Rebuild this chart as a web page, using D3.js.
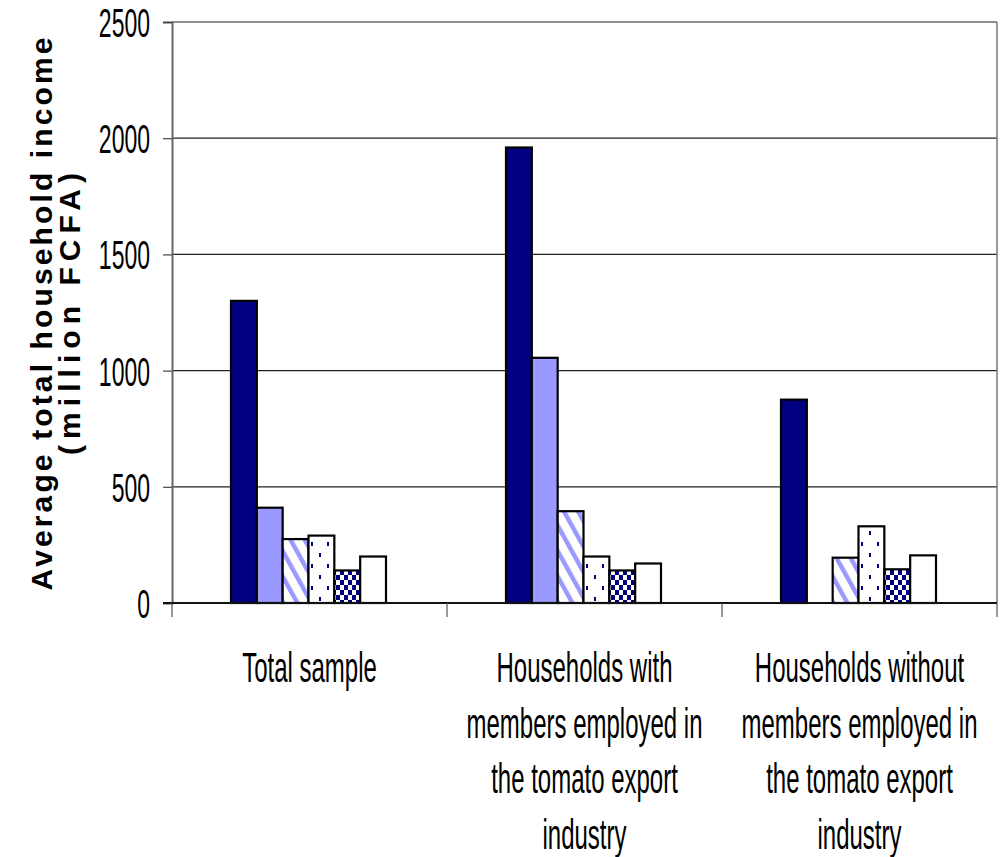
<!DOCTYPE html>
<html>
<head>
<meta charset="utf-8">
<script src="https://cdn.jsdelivr.net/npm/d3@7"></script>
<style>
  html, body { margin: 0; padding: 0; background: #fff; }
  svg { display: block; }
  text { font-family: "Liberation Sans", Arial, sans-serif; fill: #000; }
</style>
</head>
<body>
<svg id="chart" width="1000" height="857"></svg>
<script>
// Average total household income by household group, six series per group
const categories = [
  ["Total sample"],
  ["Households with", "members employed in", "the tomato export", "industry"],
  ["Households without", "members employed in", "the tomato export", "industry"]
];
const seriesNames = ["Series 1", "Series 2", "Series 3", "Series 4", "Series 5", "Series 6"];
const series1 = [1300, 1960, 875];
const series2 = [410, 1055, null];
const series3 = [275, 395, 195];
const series4 = [290, 200, 330];
const series5 = [140, 140, 145];
const series6 = [200, 170, 205];
const yTicks = [0, 500, 1000, 1500, 2000, 2500];
const yTitle = ["Average total household income", "(million FCFA)"];

const seriesValues = [series1, series2, series3, series4, series5, series6];

const svg = d3.select("#chart");
const plot = { left: 172, right: 997, top: 22, bottom: 603 };

const y = d3.scaleLinear().domain([0, 2500]).range([plot.bottom, plot.top]);
const x0 = d3.scaleBand()
  .domain(d3.range(categories.length))
  .range([plot.left, plot.right]);
const x1 = d3.scaleBand()
  .domain(d3.range(seriesNames.length))
  .range([59, 214]);

// fills: solid navy, solid periwinkle, diagonal stripes, dots, checker, white
const defs = svg.append("defs");

const stripe = defs.append("pattern")
  .attr("id", "pStripe").attr("patternUnits", "userSpaceOnUse")
  .attr("width", 10).attr("height", 10)
  .attr("patternTransform", "scale(1,1.8) rotate(-45)");
stripe.append("rect").attr("width", 10).attr("height", 10).attr("fill", "#fff");
stripe.append("rect").attr("width", 3.6).attr("height", 10).attr("fill", "#9999ff");

const dots = defs.append("pattern")
  .attr("id", "pDots").attr("patternUnits", "userSpaceOnUse")
  .attr("width", 16).attr("height", 22);
dots.append("rect").attr("width", 16).attr("height", 22).attr("fill", "#fff");
dots.append("rect").attr("x", 3).attr("y", 3).attr("width", 2).attr("height", 4).attr("fill", "#000080");
dots.append("rect").attr("x", 11).attr("y", 14).attr("width", 2).attr("height", 4).attr("fill", "#000080");

const checker = defs.append("pattern")
  .attr("id", "pCheck").attr("patternUnits", "userSpaceOnUse")
  .attr("width", 8).attr("height", 10);
checker.append("rect").attr("width", 8).attr("height", 10).attr("fill", "#fff");
checker.append("rect").attr("x", 0).attr("y", 0).attr("width", 4).attr("height", 5).attr("fill", "#000080");
checker.append("rect").attr("x", 4).attr("y", 5).attr("width", 4).attr("height", 5).attr("fill", "#000080");

const fills = ["#000080", "#9999ff", "url(#pStripe)", "url(#pDots)", "url(#pCheck)", "#ffffff"];

// horizontal gridlines
svg.append("g")
  .selectAll("line")
  .data(yTicks.filter(d => d > 0))
  .join("line")
  .attr("x1", plot.left).attr("x2", plot.right)
  .attr("y1", d => y(d)).attr("y2", d => y(d))
  .attr("stroke", "#222").attr("stroke-width", 1.2);

// right border of the plot area
svg.append("line")
  .attr("x1", plot.right).attr("x2", plot.right)
  .attr("y1", plot.top).attr("y2", plot.bottom)
  .attr("stroke", "#777").attr("stroke-width", 1.5);

// bars
const groups = svg.append("g")
  .selectAll("g")
  .data(categories.map((c, i) => i))
  .join("g")
  .attr("transform", i => `translate(${x0(i)},0)`);

groups.selectAll("rect")
  .data(i => seriesValues.map((vals, s) => ({ s, v: vals[i] })).filter(d => d.v != null))
  .join("rect")
  .attr("x", d => x1(d.s))
  .attr("width", x1.bandwidth())
  .attr("y", d => y(d.v))
  .attr("height", d => y(0) - y(d.v))
  .attr("fill", d => fills[d.s])
  .attr("stroke", "#000")
  .attr("stroke-width", 2.2);

// y axis
const yAxis = d3.axisLeft(y).tickValues(yTicks).tickSize(9).tickFormat("");
const yG = svg.append("g").attr("transform", `translate(${plot.left},0)`).call(yAxis);
yG.select(".domain").attr("stroke", "#666").attr("stroke-width", 2);
yG.selectAll(".tick line").attr("stroke", "#444").attr("stroke-width", 1.2);

// y tick labels (tall, narrow lettering)
svg.append("g")
  .selectAll("text")
  .data(yTicks)
  .join("text")
  .attr("transform", d => `translate(150,${y(d)}) scale(1,1.8)`)
  .attr("text-anchor", "end")
  .attr("dy", "0.36em")
  .style("font-size", "23px")
  .text(d => d);

// x axis with boundary ticks between categories
const xTickPos = d3.range(categories.length + 1).map(i => plot.left + i * x0.step());
svg.append("line")
  .attr("x1", plot.left - 9).attr("x2", plot.right)
  .attr("y1", plot.bottom).attr("y2", plot.bottom)
  .attr("stroke", "#111").attr("stroke-width", 2);
svg.append("g")
  .selectAll("line")
  .data(xTickPos)
  .join("line")
  .attr("x1", d => d).attr("x2", d => d)
  .attr("y1", plot.bottom).attr("y2", plot.bottom + 14)
  .attr("stroke", "#555").attr("stroke-width", 1.2);

// category labels
const lineGap = 55.5;
categories.forEach((lines, i) => {
  const cx = x0(i) + x0.bandwidth() / 2;
  svg.append("g")
    .selectAll("text")
    .data(lines)
    .join("text")
    .attr("transform", (d, k) => `translate(${cx},${682 + k * lineGap}) scale(1,1.75)`)
    .attr("text-anchor", "middle")
    .style("font-size", "24px")
    .text(d => d);
});

// y axis title, two rotated letter-spaced lines
const titleLines = [
  { text: yTitle[0], x: 52, len: 553 },
  { text: yTitle[1], x: 80, len: 282 }
];
titleLines.forEach(t => {
  svg.append("text")
    .attr("transform", `translate(${t.x},314) rotate(-90)`)
    .attr("text-anchor", "middle")
    .attr("textLength", t.len)
    .attr("lengthAdjust", "spacing")
    .style("font-size", "30px")
    .style("font-weight", "bold")
    .text(t.text);
});
</script>
</body>
</html>
